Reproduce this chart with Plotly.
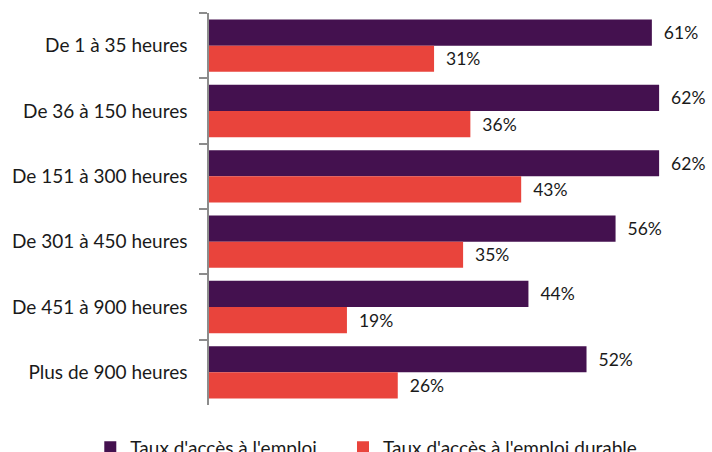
import plotly.graph_objects as go

categories = ["De 1 à 35 heures", "De 36 à 150 heures", "De 151 à 300 heures",
              "De 301 à 450 heures", "De 451 à 900 heures", "Plus de 900 heures"]
taux_emploi = [61, 62, 62, 56, 44, 52]
taux_durable = [31, 36, 43, 35, 19, 26]
series_names = ["Taux d'accès à l'emploi", "Taux d'accès à l'emploi durable"]

FONT = "Lato, Open Sans, sans-serif"
FS = 19
LFS = 17.5
TXT = "#1a1a1a"
purple = "#44114f"
red = "#e9443c"

PLOT_W = 503
PX_PER_PCT = 7.26

fig = go.Figure()
fig.add_trace(go.Bar(
    y=categories, x=taux_emploi, orientation="h", name=series_names[0],
    marker=dict(color=purple, line=dict(width=0)),
    text=[f"  {v}%" for v in taux_emploi], textposition="outside",
    textfont=dict(family=FONT, size=LFS, color=TXT), cliponaxis=False,
    constraintext="none", legend="legend",
))
fig.add_trace(go.Bar(
    y=categories, x=taux_durable, orientation="h", name=series_names[1],
    marker=dict(color=red, line=dict(width=0)),
    text=[f"  {v}%" for v in taux_durable], textposition="outside",
    textfont=dict(family=FONT, size=LFS, color=TXT), cliponaxis=False,
    constraintext="none", legend="legend2",
))

legend_common = dict(orientation="h", yanchor="top", y=-0.06, xanchor="left",
                     font=dict(family=FONT, size=FS, color=TXT),
                     bgcolor="rgba(0,0,0,0)")
fig.update_layout(
    width=712, height=452,
    margin=dict(l=209, r=0, t=13, b=47, autoexpand=False),
    paper_bgcolor="white", plot_bgcolor="white",
    barmode="group", bargap=0.2, bargroupgap=0,
    font=dict(family=FONT, size=FS, color=TXT),
    showlegend=True,
    legend=dict(x=-0.236, **legend_common),
    legend2=dict(x=0.2664, **legend_common),
    uniformtext=dict(mode=False),
)
fig.update_xaxes(range=[0, PLOT_W / PX_PER_PCT], visible=False, showgrid=False, zeroline=False)
fig.update_yaxes(
    autorange="reversed", showline=True, linecolor="#8c8c8c", linewidth=1.5,
    ticks="outside", ticklen=8, tickcolor="#8c8c8c", tickwidth=1.5,
    tickson="boundaries", showgrid=False, ticklabelstandoff=16, automargin=False,
    tickfont=dict(family=FONT, size=FS, color=TXT),
)

fig.write_html(
    "out.html",
    config={"displayModeBar": False},
    post_script="document.body.style.margin='0';document.body.style.overflow='hidden';",
)
